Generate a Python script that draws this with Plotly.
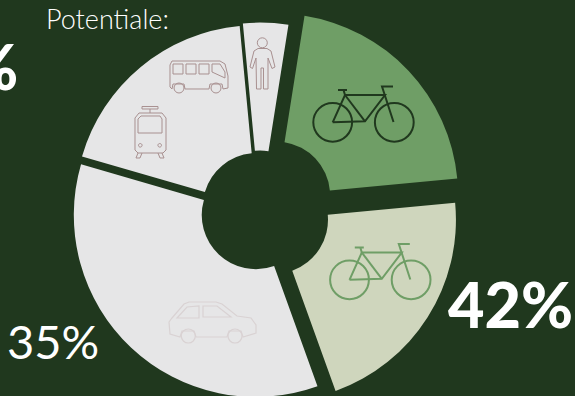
import plotly.graph_objects as go

FIG_W, FIG_H = 575, 420

modes = ["Zu Fuß", "Fahrrad", "E-Bike", "Auto", "ÖPNV"]
shares = [4, 21, 21, 35, 19]
pulls = [0.034, 0.1225, 0.092, 0.032, 0.026]

BG = "#20381e"
GREEN = "#6f9e66"
PALE = "#cfd6bd"
GREY = "#e6e6e7"
ICON = "#a89090"
CAR = "#d9d2d3"


def px(x, y):
    return f"{x / FIG_W:.5f},{1 - y / FIG_H:.5f}"


def poly(points, close=False):
    d = "M" + " L".join(px(x, y) for x, y in points)
    return d + (" Z" if close else "")


def ring(cx, cy, r):
    k = 0.5523 * r
    return (
        f"M{px(cx - r, cy)} "
        f"C{px(cx - r, cy - k)} {px(cx - k, cy - r)} {px(cx, cy - r)} "
        f"C{px(cx + k, cy - r)} {px(cx + r, cy - k)} {px(cx + r, cy)} "
        f"C{px(cx + r, cy + k)} {px(cx + k, cy + r)} {px(cx, cy + r)} "
        f"C{px(cx - k, cy + r)} {px(cx - r, cy + k)} {px(cx - r, cy)} Z"
    )


def stroke(path, color, width):
    return dict(type="path", path=path, xref="paper", yref="paper", layer="above",
                line=dict(color=color, width=width), fillcolor="rgba(0,0,0,0)")


def bicycle(dx, dy, color):
    t = lambda pts: [(x + dx, y + dy) for x, y in pts]
    parts = [
        ring(332.7 + dx, 122.3 + dy, 19.4),
        ring(394.3 + dx, 122.3 + dy, 19.4),
        poly(t([(332.7, 122.3), (345, 95), (385, 95), (365, 121.3), (332.7, 122.3)])),
        poly(t([(345, 95), (365, 121.3)])),
        poly(t([(393.5, 122), (382, 86.5), (393, 86.5)])),
        poly(t([(345, 95), (343.5, 90), (338, 90), (347, 90)])),
    ]
    return [stroke(p, color, 2) for p in parts]


def bus():
    parts = [
        poly([(170, 65), (172, 61), (220, 61), (225, 64), (228, 76), (228, 88), (223, 89),
              (222, 84), (210, 84), (209, 89), (185, 89), (184, 84), (173, 84), (172, 89),
              (170, 87)], True),
        poly([(173, 64), (183, 64), (183, 74), (173, 74)], True),
        poly([(186, 64), (196, 64), (196, 74), (186, 74)], True),
        poly([(199, 64), (209, 64), (209, 74), (199, 74)], True),
        poly([(212, 64), (220, 64), (225, 72), (225, 78), (212, 72)], True),
        ring(179, 88, 5),
        ring(216, 88, 5),
    ]
    return [stroke(p, ICON, 1) for p in parts]


def tram():
    parts = [
        poly([(135, 118), (139, 113), (162, 113), (166, 118), (166, 150), (163, 153),
              (138, 153), (135, 150)], True),
        poly([(138, 119), (141, 116), (160, 116), (162, 119), (162, 133), (138, 133)], True),
        poly([(142, 106.5), (158, 106.5), (158, 109), (142, 109)], True),
        poly([(150, 109), (150, 113)]),
        poly([(138, 153), (136, 158), (140, 158), (142, 153)]),
        poly([(162, 153), (164, 158), (160, 158), (158, 153)]),
        ring(140.3, 145.3, 1.8),
        ring(159.7, 145.3, 1.8),
    ]
    return [stroke(p, ICON, 1) for p in parts]


def person():
    parts = [
        ring(262.3, 42.8, 5),
        poly([(258, 48.5), (254, 51), (250, 67), (252.5, 68.5), (256, 58), (256.5, 89),
              (261, 89), (261, 68), (263.5, 68), (263.5, 89), (268, 89), (268, 58),
              (272, 68.5), (275, 67), (271, 51), (267, 48.5)], True),
    ]
    return [stroke(p, ICON, 1) for p in parts]


def car():
    parts = [
        poly([(169, 322), (172, 318), (184, 304), (189, 302), (216, 302), (222, 304),
              (237, 316), (251, 318), (256, 325), (256, 333), (243, 337), (241, 331),
              (229, 331), (227, 337), (196, 337), (194, 331), (182, 331), (180, 337),
              (170, 334)], True),
        poly([(177, 318), (187, 307), (199, 306), (199, 318)], True),
        poly([(203, 306), (217, 306), (231, 317), (203, 317)], True),
        ring(188.3, 336, 7),
        ring(235, 336, 7),
    ]
    return [stroke(p, CAR, 1.2) for p in parts]


shapes = (
    bicycle(0, 0, BG) + bicycle(16.8, 157.5, GREEN)
    + bus() + tram() + person() + car()
)

# Pie placed so its centre and radius land on the intended pixels.
CX, CY, SPAN = 259.8, 210.8, 204.3

fig = go.Figure(go.Pie(
    labels=modes,
    values=shares,
    pull=pulls,
    hole=0.297,
    sort=False,
    direction="clockwise",
    rotation=-5.4,
    textinfo="none",
    hoverinfo="label+percent",
    showlegend=False,
    marker=dict(colors=[GREY, GREEN, PALE, GREY, GREY], line=dict(width=0)),
    domain=dict(
        x=[(CX - SPAN) / FIG_W, (CX + SPAN) / FIG_W],
        y=[1 - (CY + SPAN) / FIG_H, 1 - (CY - SPAN) / FIG_H],
    ),
))


def label(text, right_x, mid_y, size, weight):
    return dict(text=text, xref="paper", yref="paper", x=right_x / FIG_W, y=1 - mid_y / FIG_H,
                xanchor="right", yanchor="middle", showarrow=False,
                font=dict(family="Lato", size=size, color="white", weight=weight))


fig.update_layout(
    width=FIG_W,
    height=FIG_H,
    margin=dict(l=0, r=0, t=0, b=0),
    paper_bgcolor=BG,
    plot_bgcolor=BG,
    shapes=shapes,
    annotations=[
        label("Potentiale:", 171, 19, 27, 300),
        label("23%", 20, 66, 62, 900),
        label("35%", 101, 341, 47, 400),
        label("42%", 575, 303, 63, 900),
    ],
)

fig.write_html("out.html", post_script="document.documentElement.style.overflow='hidden';")
